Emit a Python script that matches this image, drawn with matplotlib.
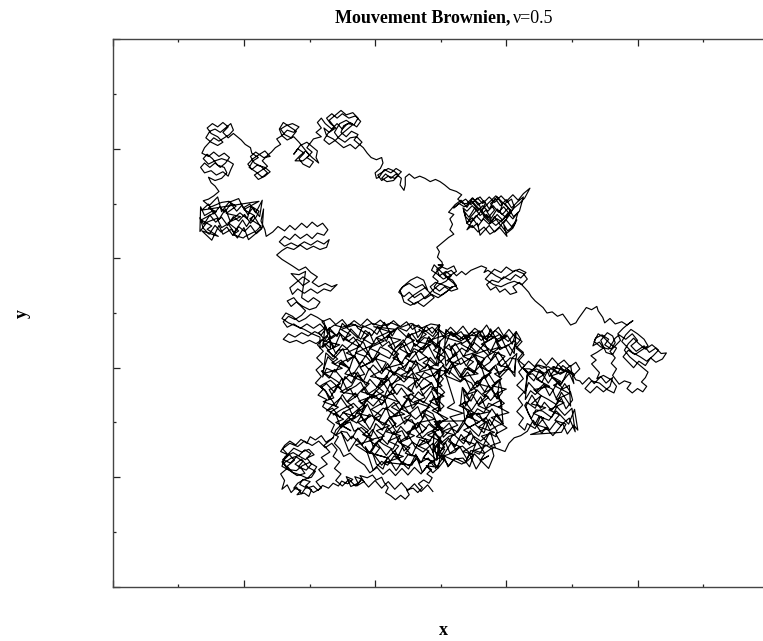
import numpy as np
import matplotlib

matplotlib.use("Agg")
import matplotlib.pyplot as plt  # noqa: E402
from matplotlib.ticker import MultipleLocator  # noqa: E402

# Brownian trajectory in axis units (0-1000), traced region by region.
# Each list is flat: x0, y0, x1, y1, ...
lobe = [
    336, 272, 325, 264, 318, 276, 309, 268, 301, 274, 296, 262, 287, 269, 279, 259,
    270, 266, 262, 258, 256, 247, 267, 241, 259, 232, 271, 226, 280, 237, 290, 229,
    283, 219, 295, 213, 303, 224, 296, 235, 307, 241, 299, 251, 288, 246, 276, 253,
    268, 243, 277, 231, 266, 220, 274, 209, 286, 204, 297, 198, 305, 208, 311, 219,
    300, 227, 289, 221, 280, 212, 268, 214, 261, 226, 272, 235, 284, 240, 293, 250,
    302, 243, 294, 232, 285, 238, 275, 245, 263, 238, 258, 220, 270, 212, 281, 203,
    293, 207, 287, 217, 278, 224, 288, 233, 298, 218, 309, 211, 303, 200, 292, 196,
    282, 189, 276, 180, 287, 176, 281, 168, 292, 171, 299, 165, 303, 177, 294, 184,
    301, 192, 290, 196, 285, 187, 296, 180, 306, 184, 313, 176, 320, 185, 329, 180,
    336, 189, 344, 184, 349, 193, 358, 188, 366, 196, 356, 201, 363, 183, 374, 189,
    369, 201, 379, 197, 372, 184, 383, 192, 377, 203, 388, 199, 396, 204, 402, 195,
    410, 200, 414, 190, 420, 181, 416, 172, 424, 166, 431, 159, 439, 167, 446, 160,
    452, 168, 448, 177, 458, 180, 465, 172, 472, 181, 466, 188, 474, 195, 482, 189,
    487, 199, 479, 206, 486, 214, 478, 221,
]

core = [
    490, 219, 481, 235, 468, 226, 462, 242, 451, 215, 436, 232, 429, 239, 419, 222,
    410, 229, 397, 213,
    385, 256, 391, 244, 402, 264, 417, 240, 424, 251, 434, 236, 443, 258, 456, 239,
    462, 255, 473, 246, 488, 262, 495, 235,
    500, 272, 490, 279, 481, 262, 468, 269, 462, 253, 451, 276, 436, 264, 429, 284,
    419, 260, 410, 271, 397, 256, 391, 278, 380, 259, 365, 275, 358, 266, 348, 282,
    340, 277, 349, 294, 362, 301, 368, 284, 379, 291, 394, 275, 401, 298, 411, 286,
    420, 306, 433, 282, 439, 293, 450, 278, 465, 300, 472, 281, 482, 297, 491, 288,
    499, 304,
    494, 299, 488, 316, 477, 323, 462, 306, 455, 313, 445, 297, 436, 320, 423, 308,
    417, 328, 406, 304, 391, 315, 384, 300, 374, 322, 365, 303, 352, 319, 346, 310,
    335, 326,
    326, 321, 341, 338, 348, 345, 358, 328, 367, 335, 380, 319, 386, 342, 397, 330,
    412, 350, 419, 326, 429, 337, 438, 322, 451, 344, 457, 325, 468, 341, 483, 332,
    490, 348, 500, 321,
    494, 359, 485, 366, 472, 349, 466, 356, 455, 340, 440, 363, 433, 351, 423, 371,
    414, 347, 401, 358, 395, 343, 384, 365, 369, 346, 362, 362, 352, 353, 343, 369,
    330, 342, 324, 359, 316, 366,
    321, 370, 332, 377, 347, 361, 354, 384, 364, 372, 373, 392, 386, 368, 392, 379,
    403, 364, 418, 386, 425, 367, 435, 383, 444, 374, 457, 390, 463, 363, 474, 380,
    489, 387, 496, 370,
    500, 399, 490, 383, 481, 406, 468, 394, 462, 414, 451, 390, 436, 401, 429, 386,
    419, 408, 410, 389, 397, 405, 391, 396, 380, 412, 365, 385, 358, 402, 348, 409,
    339, 392, 326, 399, 320, 383,
    325, 427, 336, 415, 351, 435, 358, 411, 368, 422, 377, 407, 390, 429, 396, 410,
    407, 426, 422, 417, 429, 433, 439, 406, 448, 423, 461, 430, 467, 413, 478, 420,
    493, 404,
    499, 449, 492, 437, 482, 457, 473, 433, 460, 444, 454, 429, 443, 451, 428, 432,
    421, 448, 411, 439, 402, 455, 389, 428, 383, 445, 372, 452, 357, 435, 350, 442,
    340, 426, 331, 449, 320, 437,
    324, 477, 333, 453, 346, 464, 352, 449, 363, 471, 378, 452, 385, 468, 395, 459,
    404, 475, 417, 448, 423, 465, 434, 472, 449, 455, 456, 462, 466, 446, 475, 469,
    488, 457, 499, 477,
    485, 480, 470, 472, 455, 481, 440, 474, 425, 482, 410, 476, 395, 481, 380, 473,
    365, 480, 350, 474, 338, 478,
    328, 470, 339, 461, 324, 448, 346, 442, 327, 431, 343, 416, 334, 409, 350, 399,
    323, 390, 340, 377, 347, 371, 330, 360, 337, 345, 321, 338, 344, 328, 332, 319,
    352, 306, 340, 300,
    363, 285, 348, 296, 370, 311, 351, 318, 367, 328, 358, 337, 374, 350, 347, 356,
    364, 367, 371, 382, 354, 389, 361, 399, 345, 408, 368, 421, 356, 427, 376, 438,
    352, 453, 363, 460, 348, 470, 370, 479,
    374, 472, 390, 459, 381, 453, 397, 442, 370, 427, 387, 420, 394, 410, 377, 401,
    384, 388, 368, 382, 391, 371, 379, 356, 399, 349, 375, 339, 386, 330, 371, 317,
    393, 311, 374, 300, 390, 285, 381, 278, 397, 268, 370, 259, 387, 246,
    417, 236, 400, 242, 407, 253, 391, 268, 414, 275, 402, 285, 422, 294, 398, 307,
    409, 313, 394, 324, 416, 339, 397, 346, 413, 356, 404, 365, 420, 378, 393, 384,
    410, 395, 417, 410, 400, 417, 407, 427, 391, 436, 414, 449, 402, 455, 422, 466,
    398, 475,
    432, 470, 417, 457, 439, 451, 420, 440, 436, 425, 427, 418, 443, 408, 416, 399,
    433, 386, 440, 380, 423, 369, 430, 354, 414, 347, 437, 337, 425, 328, 445, 315,
    421, 309, 432, 298, 417, 283, 439, 276, 420, 266, 436, 257, 427, 244, 443, 238,
    416, 227,
    456, 222, 463, 237, 446, 244, 453, 254, 437, 263, 460, 276, 448, 282, 468, 293,
    444, 308, 455, 315, 440, 325, 462, 334, 443, 347, 459, 353, 450, 364, 466, 379,
    439, 386, 456, 396, 463, 405, 446, 418, 453, 424, 437, 435, 460, 450, 448, 457,
    468, 467,
    467, 470, 478, 461, 463, 448, 485, 442, 466, 431, 482, 416, 473, 409, 489, 399,
    462, 390, 479, 377, 486, 371, 469, 360, 476, 345, 460, 338, 483, 328, 471, 319,
    491, 306, 467, 300, 478, 289, 463, 274, 485, 267, 466, 257, 482, 248, 473, 235,
    489, 229,
    482, 225, 499, 236, 506, 251, 489, 258, 496, 268, 480, 277, 503, 290, 491, 296,
    511, 307, 487, 322, 498, 329, 483, 339, 505, 348, 486, 361, 502, 367, 493, 378,
    509, 393, 482, 400, 499, 410, 506, 419, 489, 432, 496, 438, 480, 449,
]

lower_right = [
    505, 459, 516, 466, 531, 449, 538, 456, 548, 440, 557, 463, 570, 451, 576, 471,
    587, 447, 602, 458, 609, 443, 615, 465,
    612, 426, 603, 442, 590, 433, 584, 449, 573, 422, 558, 439, 551, 446, 541, 429,
    532, 436, 519, 420, 513, 443, 503, 431,
    506, 431, 517, 407, 532, 418, 539, 403, 549, 425, 558, 406, 571, 422, 577, 413,
    588, 429, 603, 402, 610, 419, 616, 426,
    612, 391, 603, 398, 590, 382, 584, 405, 573, 393, 558, 413, 551, 389, 541, 400,
    532, 385, 519, 407, 513, 388, 503, 404,
    530, 376, 541, 392, 556, 365, 563, 382, 573, 389, 582, 372, 590, 379, 586, 345,
    573, 368, 567, 356, 556, 376, 541, 352, 534, 363, 538, 330, 548, 352, 557, 333,
    570, 349, 576, 340, 587, 356, 593, 329, 588, 328, 573, 335, 566, 318, 556, 325,
    547, 309, 534, 332, 537, 302, 543, 322, 554, 298, 569, 309, 576, 294, 586, 316,
    595, 297,
    588, 295, 575, 286, 569, 302, 558, 275, 543, 292, 536, 299, 526, 282, 517, 289,
    504, 273, 498, 296, 487, 284, 490, 284, 505, 260, 512, 271, 522, 256, 531, 278,
    544, 259, 550, 275, 561, 266, 576, 282, 583, 255, 578, 252, 568, 259, 559, 242,
    546, 249, 540, 233, 529, 256, 514, 244, 507, 264, 497, 240, 488, 251, 492, 216,
    505, 238, 511, 219, 522, 235, 537, 226, 544, 242, 554, 215, 563, 232, 573, 239,
    560, 230, 567, 243, 551, 249, 574, 260, 562, 275, 582, 282, 558, 292, 569, 301,
    554, 314, 576, 320, 557, 331, 573, 346, 564, 353, 580, 363, 553, 372, 570, 385,
    577, 391, 560, 402, 567, 417, 551, 424, 574, 434, 562, 443, 582, 456,
    535, 460, 546, 454, 531, 443, 553, 428, 534, 421, 550, 411, 541, 402, 557, 389,
    530, 383, 547, 372, 554, 357, 537, 350, 544, 340, 528, 331, 551, 318, 539, 312,
    559, 301, 535, 286, 546, 279, 531, 269, 553, 260, 534, 247, 550, 241, 541, 230,
    532, 224, 505, 239, 522, 246, 529, 256, 512, 265, 519, 278, 503, 284, 526, 295,
    514, 310, 534, 317, 510, 327, 521, 336, 506, 394, 528, 407, 509, 413, 525, 424,
    516, 439, 532, 446, 505, 456, 522, 463,
    535, 452, 548, 466, 562, 450, 574, 462, 588, 449,
    601, 460, 584, 451, 591, 438, 575, 432, 598, 421, 586, 406, 606, 399, 582, 389,
    593, 380, 578, 367, 600, 361, 581, 350, 597, 335, 588, 328, 604, 318, 577, 309,
    594, 296, 601, 290, 584, 279, 591, 264, 575, 257, 598, 247,
    604, 262, 612, 272, 622, 276,
]

right_group = [
    632, 284, 641, 304, 654, 280, 660, 291, 671, 276, 686, 298, 693, 279, 703, 295,
    709, 286,
    704, 324, 695, 297, 682, 314, 676, 321, 665, 304, 650, 311, 643, 295, 633, 318,
    630, 330, 639, 350, 652, 326, 658, 337, 669, 322, 684, 344, 691, 325, 701, 341,
    698, 355, 689, 371, 676, 344, 670, 361, 659, 368, 644, 351, 637, 358, 629, 342,
    632, 388, 642, 376, 651, 396, 664, 372, 670, 383, 681, 368, 696, 390, 703, 371,
    698, 404, 688, 395, 679, 406, 666, 384, 660, 401, 649, 405, 634, 391, 627, 398,
    635, 398, 658, 388, 646, 379, 666, 366, 642, 360, 653, 349, 638, 334, 660, 327,
    641, 317, 657, 308, 648, 295, 664, 289, 637, 278,
    684, 282, 691, 297, 674, 304, 681, 314, 665, 323, 688, 336, 676, 342, 696, 353,
    672, 368, 683, 375, 668, 385, 690, 394, 671, 402,
    700, 390, 706, 378, 712, 376,
]

right_arm = [
    716, 370, 726, 382, 734, 371, 744, 384, 752, 372, 762, 382, 758, 366, 748, 356,
    738, 366, 728, 354, 720, 362, 730, 376, 742, 372, 754, 360, 764, 354, 768, 366,
    760, 378, 748, 386, 738, 380, 742, 391, 736, 399, 730, 407, 737, 414, 729, 422,
    738, 428, 748, 436, 742, 447, 732, 440, 736, 454, 746, 460, 756, 452, 750, 442,
    760, 434, 766, 446, 762, 458, 754, 464, 744, 450, 752, 428, 762, 424, 768, 436,
    758, 444, 748, 456, 740, 462, 734, 448, 744, 438, 756, 434, 766, 454, 772, 460,
    782, 452, 792, 462, 800, 450, 790, 440, 798, 430, 810, 440, 818, 428, 828, 436,
    836, 426, 844, 427, 838, 416, 828, 410, 820, 418, 812, 404, 802, 412, 794, 400,
    786, 410, 778, 420, 786, 432, 796, 424, 806, 432, 816, 440, 810, 452, 800, 462,
    790, 470, 782, 460, 776, 448, 784, 438, 792, 428, 804, 420, 814, 412, 824, 422,
    832, 432, 822, 442, 812, 434, 802, 444, 794, 454, 786, 444, 780, 432, 788, 420,
    798, 410, 808, 400, 816, 392, 812, 382, 806, 374, 814, 366, 808, 356, 800, 362,
    792, 354, 784, 362, 790, 372, 780, 376, 772, 370, 762, 386, 768, 398, 760, 408,
    766, 418, 758, 430, 766, 440, 774, 450, 770, 462, 778, 472, 786, 480, 793, 486,
    784, 478, 776, 484, 766, 480, 758, 490, 750, 482, 747, 492, 740, 504, 738, 512,
    730, 506, 722, 510, 716, 500, 710, 490, 706, 482, 698, 478, 692, 488, 686, 498,
    678, 494, 670, 502, 662, 500, 656, 510, 650, 516, 644, 522, 638, 530, 634, 538,
]

middle = [
    628, 546, 620, 556, 610, 548, 616, 538, 606, 534, 598, 544, 590, 538, 584, 548,
    576, 542, 570, 552, 578, 560, 588, 556, 596, 566, 606, 560, 614, 570, 622, 564,
    630, 574, 620, 580, 610, 576, 600, 584, 592, 574, 582, 580, 574, 570, 568, 562,
    580, 552, 592, 548, 602, 554, 612, 558, 624, 552, 632, 562, 626, 572, 614, 578,
    604, 570, 594, 562, 584, 568, 572, 578, 566, 574, 570, 582, 562, 586, 554, 582,
    546, 578, 538, 570, 532, 576, 524, 568, 516, 578, 506, 572, 512, 562, 520, 554,
    526, 544, 516, 540, 506, 548, 498, 540, 490, 548, 496, 558, 488, 566, 494, 576,
    502, 584, 510, 580, 520, 586, 524, 576, 514, 568, 504, 562, 496, 570, 486, 578,
    490, 588, 500, 576, 508, 566, 518, 560, 524, 550, 514, 546, 502, 552, 492, 556,
    484, 548, 490, 538, 500, 532, 510, 540, 518, 548, 506, 536, 496, 528, 486, 534,
    476, 526, 470, 536, 460, 528, 452, 538, 444, 530, 436, 538, 442, 548, 452, 554,
    462, 546, 472, 552, 480, 542, 474, 560, 464, 566, 454, 560, 446, 552, 438, 542,
    444, 520, 454, 514, 464, 520, 474, 512, 482, 520, 490, 528, 484, 536, 476, 546,
    468, 540, 458, 532, 450, 524, 460, 516, 470, 524, 480, 532, 490, 544, 498, 552,
    508, 558, 516, 568, 508, 576, 498, 568, 494, 580, 504, 588, 496, 588, 503, 586,
]

climb = [
    502, 593, 495, 602, 498, 612, 494, 620, 500, 626, 506, 632, 512, 638, 520, 644,
    514, 652, 518, 662, 514, 672, 520, 680, 512, 684,
]

upper_right_core = [
    522, 698, 531, 706, 540, 693, 549, 710, 557, 697, 566, 705, 574, 690, 583, 709,
    591, 696, 600, 707, 608, 692, 617, 703, 626, 712, 620, 686, 611, 676, 603, 692,
    594, 680, 586, 690, 577, 673, 569, 688, 560, 678, 552, 692, 543, 675, 535, 687,
    540, 664, 548, 674, 557, 659, 565, 672, 574, 662, 582, 676, 591, 660, 599, 671,
    608, 658, 616, 670, 610, 655, 601, 646, 592, 660, 583, 650, 575, 644, 566, 657,
    557, 648, 548, 660, 540, 652, 548, 668, 560, 684, 572, 700, 584, 714, 596, 700,
    608, 686, 596, 672, 584, 660, 572, 672, 560, 688, 548, 704, 536, 694, 528, 700,
    520, 692,
]

upper_right = [
    520, 692, 528, 700, 538, 708, 546, 698, 556, 710, 564, 700, 574, 712, 582, 702,
    592, 714, 600, 704, 610, 716, 618, 706, 626, 718, 636, 728, 628, 710, 620, 700,
    612, 692, 604, 682, 596, 694, 588, 684, 580, 696, 572, 686, 564, 696, 556, 686,
    548, 696, 540, 686, 534, 692, 538, 676, 546, 666, 554, 678, 562, 668, 570, 680,
    578, 668, 586, 680, 594, 670, 602, 682, 610, 672, 618, 684, 612, 660, 602, 650,
    596, 662, 601, 640, 590, 656, 582, 648, 574, 660, 566, 650, 560, 642, 556, 664,
    548, 656, 540, 664, 546, 676, 556, 690, 548, 702, 560, 712, 568, 700, 562, 686,
    572, 674, 582, 688, 576, 700, 586, 712, 594, 698, 590, 684, 600, 674, 606, 688,
    598, 700, 608, 708, 612, 694, 604, 678, 596, 664, 586, 672, 576, 664, 566, 676,
    558, 700, 548, 710, 540, 700, 534, 700, 526, 708, 532, 716, 524, 722,
]

upper_trail = [
    514, 726, 506, 734, 499, 740, 492, 744, 484, 740, 476, 746, 468, 750, 460, 746,
    452, 754, 446, 748, 446, 734, 444, 724, 438, 734, 440, 746, 432, 754, 424, 746,
    416, 754, 410, 746, 418, 740, 428, 742, 436, 752, 428, 760, 420, 764, 412, 758,
    404, 752, 410, 742, 420, 750, 430, 746, 440, 758, 432, 764, 424, 756, 414, 762,
    406, 748, 402, 746, 400, 756, 408, 764, 412, 774, 410, 784, 402, 780, 394, 784,
    388, 792, 382, 802,
]

upper_mid = [
    376, 808, 368, 816, 374, 826, 364, 832, 356, 822, 348, 830, 352, 842, 362, 848,
    372, 840, 378, 850, 370, 860, 360, 856, 350, 864, 342, 856, 334, 864, 326, 856,
    332, 846, 340, 838, 330, 830, 322, 838, 326, 824, 336, 818, 344, 810, 352, 802,
    362, 808, 370, 800, 380, 812, 372, 822, 362, 820, 354, 812, 344, 820, 338, 830,
    346, 846, 356, 852, 366, 844, 358, 836, 348, 826, 340, 816, 330, 808, 322, 816,
    328, 828, 338, 840, 330, 852, 340, 862, 348, 870, 356, 862, 366, 866, 374, 856,
    368, 844, 358, 846, 350, 836, 342, 846, 334, 836, 324, 846, 318, 856, 312, 848,
    318, 838, 310, 830, 318, 822, 306, 818, 296, 802, 304, 794, 296, 784, 306, 776,
    300, 766, 290, 772, 284, 782, 292, 792, 282, 800, 276, 790, 286, 806, 296, 812,
    304, 804, 312, 796, 310, 784, 314, 774, 304, 784, 294, 796, 286, 788, 278, 778,
    290, 778, 300, 788, 284, 812, 276, 822, 266, 816, 258, 824, 266, 834, 276, 830,
    284, 840, 274, 846, 264, 842, 256, 836, 262, 826, 272, 820, 280, 832, 270, 840,
    260, 848, 254, 836, 258, 824, 250, 818, 256, 808, 248, 802, 242, 794,
]

upper_left = [
    236, 788, 228, 778, 236, 768, 226, 760, 216, 752, 222, 744, 232, 750, 240, 758,
    232, 766, 220, 770, 212, 762, 206, 772, 214, 782, 224, 790, 232, 796, 240, 786,
    230, 784, 218, 794, 210, 786, 216, 774, 226, 768, 236, 756, 228, 748, 218, 758,
    208, 766, 214, 778, 222, 784, 212, 792, 210, 802, 202, 808, 196, 816, 190, 822,
    184, 828, 176, 820, 168, 830, 176, 840, 168, 848, 160, 840, 152, 846, 144, 838,
    150, 828, 160, 822, 168, 812, 160, 806, 150, 812, 142, 820, 148, 832, 156, 836,
    164, 830, 172, 838, 180, 846, 184, 834, 178, 826, 170, 820, 162, 814, 154, 820,
    146, 810, 140, 802, 136, 792, 146, 786, 154, 794, 162, 786, 170, 792, 178, 784,
    172, 774, 164, 766, 156, 774, 148, 766, 140, 774, 134, 766, 140, 756, 150, 760,
    158, 752, 168, 758, 176, 750, 180, 762, 184, 772, 176, 778, 166, 782, 156, 778,
    146, 772, 138, 782, 144, 790, 152, 782, 160, 770, 170, 766, 174, 756, 166, 746,
    156, 742, 146, 748, 150, 738, 156, 732, 162, 722, 154, 714, 146, 708,
]

band = [
    138, 705, 147, 696, 160, 712, 166, 685, 177, 702, 192, 709, 199, 692, 209, 699,
    218, 683, 228, 706,
    224, 676, 211, 696, 205, 672, 194, 683, 179, 668, 172, 690, 162, 671, 153, 687,
    140, 678, 134, 694,
    133, 649, 144, 666, 159, 673, 166, 656, 176, 663, 185, 647, 198, 670, 204, 658,
    215, 678, 227, 654,
    222, 649, 207, 634, 200, 656, 190, 637, 181, 653, 168, 644, 162, 660, 151, 633,
    136, 650,
    161, 640, 144, 653, 151, 659, 135, 670, 158, 685, 146, 692, 166, 702,
    177, 704, 188, 695, 173, 682, 195, 676, 176, 665, 192, 650, 183, 643, 199, 637,
    202, 640, 219, 650, 226, 659, 209, 672, 216, 678, 200, 689, 223, 704,
    136, 688, 146, 699, 154, 681, 163, 694, 171, 684, 180, 700, 189, 686, 197, 697,
    206, 680, 214, 693, 223, 686, 219, 676, 210, 664, 201, 680, 192, 668, 184, 676,
    175, 660, 166, 675, 157, 666, 148, 679, 139, 662, 133, 674, 138, 655, 147, 644,
    156, 660, 165, 648, 174, 657, 183, 642, 192, 658, 201, 649, 210, 660, 219, 645,
    228, 656,
    230, 690, 226, 668, 232, 652, 234, 640,
    244, 648, 252, 658, 262, 650, 270, 660, 278, 652, 288, 664, 296, 656, 304, 666,
    312, 658, 320, 664, 328, 652, 322, 642, 312, 646, 304, 636, 296, 644, 286, 636,
    278, 644, 270, 634, 262, 640, 254, 630, 262, 622, 272, 628, 282, 622, 292, 630,
    302, 624, 312, 632, 322, 626, 330, 634, 326, 620, 316, 616, 306, 622, 296, 616,
    286, 624, 276, 616, 266, 620, 258, 614, 250, 606, 258, 598, 266, 592,
]

descent = [
    274, 586, 284, 578, 294, 584, 302, 574, 312, 566, 304, 556, 314, 548, 324, 554,
    334, 548, 342, 552, 332, 540, 322, 544, 312, 536, 302, 544, 292, 536, 282, 544,
    274, 534, 270, 546, 280, 556, 290, 566, 300, 558, 290, 550, 280, 562, 272, 572,
    284, 570, 294, 576, 288, 528, 298, 520, 306, 528, 316, 520, 310, 510, 300, 506,
    290, 512, 280, 520, 272, 512, 266, 522, 276, 528, 284, 516, 294, 504, 288, 496,
    278, 488, 268, 494, 260, 484, 266, 474, 276, 480, 286, 472, 296, 480, 306, 472,
    316, 480, 324, 470, 318, 460, 308, 466, 298, 458, 288, 464, 278, 456, 268, 462,
    260, 452, 270, 446, 280, 450, 290, 444, 300, 450, 310, 444, 320, 452, 328, 460,
    322, 484, 312, 492, 302, 498, 294, 490, 284, 484, 274, 494, 264, 500, 258, 490,
    268, 482, 280, 476, 292, 470, 304, 462, 316, 456, 316, 436, 324, 444, 332, 436,
]

core_return = [
    330, 473, 342, 457, 350, 481, 364, 465, 374, 454, 381, 477, 394, 470, 403, 461,
    414, 483, 426, 458, 434, 474, 448, 467, 458, 480, 465, 455, 478, 476, 487, 463,
    498, 479,
    495, 441, 483, 453, 475, 455, 461, 439, 451, 463, 444, 447, 431, 436, 422, 459,
    411, 452, 399, 443, 391, 465, 377, 440, 367, 456, 360, 449, 347, 462, 338, 437,
    327, 458, 321, 445,
    324, 440, 336, 420, 344, 432, 358, 434, 368, 418, 375, 442, 388, 426, 397, 415,
    408, 438, 420, 431, 428, 422, 442, 444, 452, 419, 459, 435, 472, 428, 481, 441,
    492, 416, 500, 437,
    496, 403, 484, 419, 476, 399, 462, 411, 452, 413, 445, 397, 432, 421, 423, 405,
    412, 394, 400, 417, 392, 410, 378, 401, 368, 423, 361, 398, 348, 414, 339, 407,
    328, 420, 321, 395,
    318, 394, 330, 381, 338, 397, 352, 377, 362, 389, 369, 391, 382, 375, 391, 399,
    402, 383, 414, 372, 422, 395, 436, 388, 446, 379, 453, 401, 466, 376, 475, 392,
    486, 385, 498, 398,
    494, 352, 486, 373, 472, 360, 462, 376, 455, 356, 442, 368, 433, 370, 422, 354,
    410, 378, 402, 362, 388, 351, 378, 374, 371, 367, 358, 358, 349, 380, 338, 355,
    326, 371, 318, 364,
    326, 355, 340, 330, 350, 351, 357, 338, 370, 354, 379, 334, 390, 346, 402, 348,
    410, 332, 424, 356, 434, 340, 441, 329, 454, 352, 463, 345, 474, 336, 486, 358,
    494, 333, 500, 349,
    496, 320, 482, 333, 472, 308, 465, 329, 452, 316, 443, 332, 432, 312, 420, 324,
    412, 326, 398, 310, 388, 334, 381, 318, 368, 307, 359, 330, 348, 323, 336, 314,
    340, 315, 348, 290, 362, 306, 372, 299, 379, 312, 392, 287, 401, 308, 412, 295,
    424, 311, 432, 291, 446, 303, 456, 305, 463, 289, 476, 313, 485, 297, 496, 286,
    492, 288, 480, 281, 472, 272, 458, 294, 448, 269, 441, 285, 428, 278, 419, 291,
    408, 266, 396, 287, 388, 274, 374, 290, 364, 270, 357, 282, 348, 284,
    360, 247, 373, 271, 382, 255, 393, 244, 405, 267, 413, 260, 427, 251, 437, 273,
    444, 248, 457, 264, 466, 257, 477, 270, 489, 245, 497, 266,
    494, 231, 480, 247, 470, 227, 463, 239, 450, 241, 441, 225, 430, 249, 418, 233,
    410, 222, 396, 245,
    402, 224, 412, 215, 419, 237, 432, 212, 441, 228, 452, 221, 464, 234, 472, 209,
    486, 230, 496, 217,
]

lower_right_return = [
    500, 241, 512, 221, 520, 233, 534, 235, 544, 219, 551, 243, 564, 227, 573, 216,
    581, 239,
    578, 253, 567, 244, 555, 266, 547, 241, 533, 257, 523, 250, 516, 263, 503, 238,
    494, 259, 488, 246,
    490, 283, 501, 263, 513, 275, 521, 277, 535, 261, 545, 285, 552, 269, 565, 258,
    574, 281, 584, 274,
    586, 284, 574, 306, 566, 281, 552, 297, 542, 290, 535, 303, 522, 278, 513, 299,
    502, 286, 490, 302,
    534, 303, 548, 315, 558, 317, 565, 301, 578, 325, 587, 309, 595, 298,
    592, 341, 581, 334, 569, 325, 561, 347, 547, 322, 537, 338, 530, 331,
    533, 364, 546, 339, 555, 360, 566, 347, 578, 363, 586, 343, 594, 355,
    590, 377, 576, 361, 566, 385, 559, 369, 546, 358, 537, 381, 530, 374,
    506, 386, 517, 408, 529, 383, 537, 399, 551, 392, 561, 405, 568, 380, 581, 401,
    590, 388, 601, 404, 613, 384,
    614, 416, 606, 418, 592, 402, 582, 426, 575, 410, 562, 399, 553, 422, 542, 415,
    530, 406, 522, 428, 508, 403,
    505, 439, 515, 432, 522, 445, 535, 420, 544, 441, 555, 428, 567, 444, 575, 424,
    589, 436, 599, 438, 606, 422, 615, 446,
    612, 449, 599, 438, 590, 461, 579, 454, 567, 445, 559, 467, 545, 442, 535, 458,
    528, 451, 515, 464, 506, 439,
    508, 470, 519, 457, 531, 466, 539, 453, 553, 465, 563, 467, 570, 451, 583, 468,
    592, 459, 603, 448, 615, 466,
    622, 452, 614, 440, 626, 428, 617, 415, 628, 404, 619, 392, 626, 380, 616, 368,
    627, 356, 618, 344, 625, 332, 616, 320, 626, 308, 619, 296, 628, 286,
    632, 298, 644, 289, 652, 311, 666, 286, 676, 302, 683, 295, 696, 308, 705, 283,
    700, 326, 689, 313, 677, 329, 669, 309, 655, 321, 645, 323, 638, 307, 628, 331,
    631, 337, 644, 326, 653, 349, 664, 342, 676, 333, 684, 355, 698, 330,
    696, 368, 686, 361, 679, 374, 666, 349, 657, 370, 646, 357, 634, 373, 628, 353,
    632, 387, 640, 389, 654, 373, 664, 397, 671, 381, 684, 370, 693, 393, 704, 386,
    698, 393, 686, 404, 678, 390, 664, 402, 654, 399, 647, 405, 634, 387, 625, 400,
]

outline = [
    634, 412, 643, 402, 652, 416, 661, 404, 670, 418, 679, 406, 688, 414, 697, 402,
    706, 410, 712, 398, 704, 388, 694, 396, 682, 388, 670, 400, 658, 390, 646, 398,
    634, 390, 622, 402, 618, 412, 627, 424, 615, 436, 624, 448, 612, 458,
    604, 470, 596, 458, 588, 474, 578, 462, 570, 478, 561, 464, 552, 472, 543, 461,
    534, 476, 524, 463, 515, 474, 506, 462,
    497, 470, 505, 455, 494, 443, 506, 430, 495, 418, 505, 405, 493, 392, 504, 380,
    496, 368, 506, 355, 494, 343, 505, 330, 495, 318, 506, 305, 494, 293, 505, 280,
    496, 268, 506, 255, 495, 243, 505, 230, 497, 218,
    488, 208, 479, 220, 470, 206, 460, 218, 450, 204, 441, 216, 431, 203, 422, 215,
    412, 205, 403, 218, 392, 208, 384, 222,
    372, 232, 362, 244, 352, 238, 346, 252, 338, 262, 344, 274, 333, 283, 338, 296,
    327, 306, 333, 318, 320, 329, 326, 342, 313, 350, 321, 361, 309, 372, 318, 384,
    310, 396, 320, 407, 311, 418, 321, 430, 312, 442, 322, 453, 314, 464, 325, 474,
    319, 484,
    331, 490, 340, 479, 350, 488, 358, 476, 368, 486, 378, 477, 388, 489, 398, 478,
    408, 487, 418, 476, 428, 486, 438, 475, 448, 484, 457, 470, 466, 478, 476, 466,
    487, 474, 496, 463,
    486, 450, 470, 436, 458, 420, 446, 404, 430, 392, 418, 376, 404, 360, 392, 346,
    380, 330, 366, 316, 352, 300, 340, 286,
]

lobe_fill = [
    336, 272, 322, 258, 331, 246, 318, 236, 327, 224, 314, 214, 322, 202, 310, 192,
    318, 180, 306, 172, 296, 184, 288, 170, 280, 182, 272, 172, 266, 186, 258, 178,
    262, 194, 256, 206, 266, 216, 258, 228, 268, 240, 259, 252, 270, 262, 282, 256,
    292, 266, 304, 258, 314, 266, 324, 254, 334, 262, 342, 250, 336, 238, 346, 228,
    338, 216, 348, 206, 340, 194, 350, 184, 360, 196, 370, 184, 380, 196, 390, 182,
    400, 194, 410, 180, 420, 192, 430, 178, 440, 190, 450, 176, 460, 188, 470, 174,
    480, 186, 488, 174,
]

pieces = [lobe, core, lower_right, right_group, right_arm, middle, climb,
          upper_right_core, upper_right, upper_trail, upper_mid, upper_left,
          band, descent, core_return, lower_right_return, outline, lobe_fill]
walk = np.concatenate([np.asarray(p, dtype=float).reshape(-1, 2) for p in pieces])

plt.rcParams["font.family"] = ["Liberation Serif", "DejaVu Serif"]

fig = plt.figure(figsize=(7.63, 6.41), dpi=100)
ax = fig.add_axes([0.1477, 0.0847, 0.8598, 0.854])

ax.plot(walk[:, 0], walk[:, 1], color="black", lw=0.85)

ax.set_xlim(0, 1000)
ax.set_ylim(0, 1000)
for axis in (ax.xaxis, ax.yaxis):
    axis.set_major_locator(MultipleLocator(200))
    axis.set_minor_locator(MultipleLocator(100))
ax.tick_params(which="both", direction="in", top=True, right=False,
               labelbottom=False, labelleft=False, color="#222222")
ax.tick_params(which="major", length=5, width=0.9)
ax.tick_params(which="minor", length=2.5, width=0.9)
for side in ("left", "bottom", "top"):
    ax.spines[side].set_color("#444444")
    ax.spines[side].set_linewidth(1.0)
ax.spines["right"].set_visible(False)

fig.text(0.6685, 0.9646, "Mouvement Brownien,", ha="right", va="baseline",
         fontsize=13, fontweight="bold")
fig.text(0.6723, 0.9646, "\u03bd=0.5", ha="left", va="baseline", fontsize=13)
fig.text(0.5806, 0.0094, "x", ha="center", va="baseline", fontsize=13,
         fontweight="bold")
fig.text(0.0288, 0.5117, "y", ha="center", va="center", rotation=90,
         fontsize=13, fontweight="bold")

fig.savefig("out.png", dpi=100)
